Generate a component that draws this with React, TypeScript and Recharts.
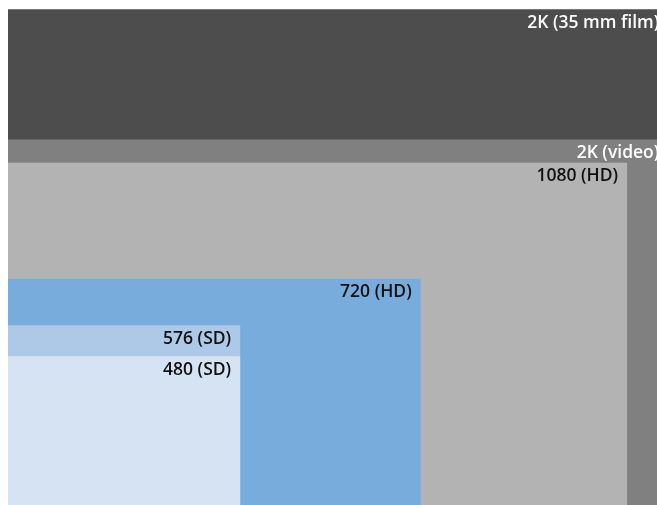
import { ComposedChart, ReferenceArea, XAxis, YAxis } from 'recharts';

// frame sizes in pixels (width x height), largest first so smaller ones sit on top
const formats = ['2K (35 mm film)', '2K (video)', '1080 (HD)', '720 (HD)', '576 (SD)', '480 (SD)'];
const frameWidths = [2048, 2048, 1920, 1280, 720, 720];
const frameHeights = [1556, 1152, 1080, 720, 576, 480];

const fills = ['#4d4d4d', '#808080', '#b3b3b3', '#78acdc', '#aec8e8', '#d6e3f3'];
const labelColors = ['#ffffff', '#ffffff', '#111111', '#111111', '#111111', '#111111'];

function frameLabel(text: string, color: string) {
  return (props: any) => {
    const vb = props.viewBox || {};
    return (
      <text
        x={vb.x + vb.width - 9}
        y={vb.y + 18.5}
        textAnchor="end"
        fill={color}
        fontFamily="'Open Sans', 'DejaVu Sans', sans-serif"
        fontWeight={600}
        fontSize={17.5}
      >
        {text}
      </text>
    );
  };
}

export default function App() {
  return (
    <div style={{ position: 'fixed', left: 8, top: 8, width: 649, height: 497, overflow: 'hidden' }}>
      <ComposedChart width={661} height={503} margin={{ top: 0, right: 0, bottom: 0, left: 0 }}>
        <XAxis type="number" dataKey="x" domain={[0, 2050]} hide allowDataOverflow />
        <YAxis type="number" domain={[0, 1560]} hide allowDataOverflow />
        {formats.map((name, i) => (
          <ReferenceArea
            key={name}
            x1={0}
            x2={frameWidths[i]}
            y1={0}
            y2={frameHeights[i]}
            fill={fills[i]}
            fillOpacity={1}
            stroke="none"
            ifOverflow="visible"
            label={{ content: frameLabel(name, labelColors[i]) }}
          />
        ))}
      </ComposedChart>
    </div>
  );
}
